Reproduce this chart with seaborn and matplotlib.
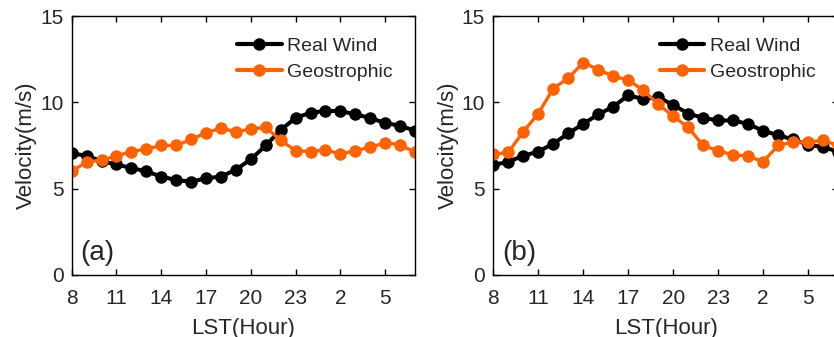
import pandas as pd
import matplotlib.pyplot as plt
import seaborn as sns

# hours of local standard time, starting at 08 and wrapping past midnight
hours = [8, 9, 10, 11, 12, 13, 14, 15, 16, 17, 18, 19, 20, 21, 22, 23,
         0, 1, 2, 3, 4, 5, 6, 7]
tick_hours = [8, 11, 14, 17, 20, 23, 2, 5]

real_a = [7.05, 6.9, 6.6, 6.4, 6.2, 6.0, 5.7, 5.5, 5.4, 5.6, 5.7, 6.1,
          6.7, 7.5, 8.4, 9.1, 9.4, 9.5, 9.5, 9.3, 9.1, 8.8, 8.65, 8.35]
geo_a = [6.0, 6.55, 6.65, 6.9, 7.15, 7.3, 7.5, 7.5, 7.85, 8.25, 8.5, 8.3,
         8.45, 8.55, 7.8, 7.2, 7.15, 7.25, 7.0, 7.2, 7.4, 7.65, 7.55, 7.1]

real_b = [6.37, 6.56, 6.9, 7.15, 7.6, 8.2, 8.75, 9.3, 9.75, 10.4, 10.2, 10.3,
          9.85, 9.35, 9.1, 8.95, 8.95, 8.75, 8.35, 8.1, 7.85, 7.55, 7.4, 7.15]
geo_b = [7.0, 7.1, 8.3, 9.35, 10.8, 11.4, 12.3, 11.9, 11.5, 11.3, 10.7, 9.9,
         9.2, 8.55, 7.5, 7.2, 6.95, 6.9, 6.55, 7.5, 7.7, 7.7, 7.8, 7.5]

series_names = ["Real Wind", "Geostrophic"]
panel_labels = ["(a)", "(b)"]


def unwrap(h):
    # put hours after midnight on the following day so the axis is continuous
    return h if h >= 8 else h + 24


def make_frame(real, geo):
    x = [unwrap(h) for h in hours]
    df = pd.DataFrame({
        "x": x * 2,
        "v": real + geo,
        "series": [series_names[0]] * len(x) + [series_names[1]] * len(x),
    })
    return df


sns.set_theme(style="ticks")
plt.rcParams["font.family"] = ["Liberation Sans", "DejaVu Sans"]

fig = plt.figure(figsize=(8.34, 3.37), dpi=100)
positions = [
    [0.086, 0.184, 0.4116, 0.7685],
    [0.5915, 0.184, 0.4133, 0.7685],
]
palette = {"Real Wind": "black", "Geostrophic": "#FF6200"}

for pos, (real, geo), label in zip(positions, [(real_a, geo_a), (real_b, geo_b)], panel_labels):
    ax = fig.add_axes(pos)
    df = make_frame(real, geo)
    sns.lineplot(data=df, x="x", y="v", hue="series", palette=palette,
                 marker="o", markersize=9, markeredgewidth=0,
                 linewidth=2.4, ax=ax)
    for line in ax.get_lines():
        if line.get_color() in ("black", "k"):
            line.set_linewidth(2.9)
    ax.set_xlim(8, 31)
    ax.set_ylim(0, 15)
    ax.set_xticks([unwrap(h) for h in tick_hours])
    ax.set_xticklabels([str(h) for h in tick_hours])
    ax.set_yticks([0, 5, 10, 15])
    ax.tick_params(direction="in", top=True, right=True, length=4,
                   width=1, labelsize=15, color="black")
    ax.tick_params(axis="x", pad=10)
    ax.tick_params(axis="y", pad=6)
    for s in ax.spines.values():
        s.set_linewidth(1)
        s.set_color("black")
    ax.set_xlabel("LST(Hour)", fontsize=16, labelpad=7)
    ax.set_ylabel("Velocity(m/s)", fontsize=16, labelpad=2)
    ax.text(0.025, 0.085, label, transform=ax.transAxes, fontsize=20,
            ha="left", va="center")
    leg = ax.legend(loc="upper right", frameon=False, fontsize=14,
                    handlelength=2.3, handletextpad=0.3, labelspacing=0.45,
                    borderaxespad=0, borderpad=0,
                    bbox_to_anchor=(1 - 22 / 343.0, 1 - 21 / 259.0))
    for h in leg.legend_handles:
        h.set_linewidth(3)

fig.savefig("out.png", dpi=100)
